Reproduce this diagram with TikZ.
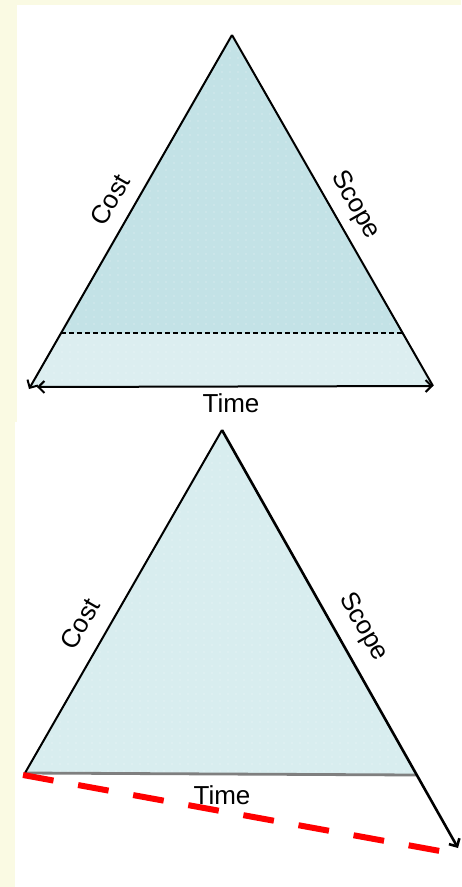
\documentclass[tikz,border=0pt]{standalone}
\usepackage{fontspec}
\setmainfont{Liberation Sans}
\usetikzlibrary{arrows.meta}
\definecolor{cream}{HTML}{FAFAE3}
\definecolor{tealfill}{HTML}{C3E2E6}
\definecolor{palefill}{HTML}{DCEEF0}
\definecolor{lowfill}{HTML}{D8EDEF}
\definecolor{basegray}{HTML}{7F7F7F}
\definecolor{dashred}{HTML}{FF0000}

\begin{document}
\begin{tikzpicture}[x=1pt, y=-1pt, >={Straight Barb[length=6pt, width=12pt]}, line width=2pt,
  lbl/.style={font=\fontsize{26}{30}\selectfont, inner sep=0pt},
  dotgrid/.style={white, opacity=0.6}]

% Background
\fill[cream] (0,0) rectangle (461,887);
\fill[white] (17,5) rectangle (461,422);
\fill[white] (15,422) rectangle (461,887);
\useasboundingbox (0,0) rectangle (461,887);

% ============================================================
% Top triangle: shrinking time
% ============================================================
\coordinate (tApex) at (232,35);
\coordinate (tFillL) at (31,386);
\coordinate (tCostEnd) at (29,389);
\coordinate (tTimeL) at (37,387);
\coordinate (tRight) at (433,386);
\coordinate (tDashL) at (61,333);
\coordinate (tDashR) at (403,333);

% Fill
\fill[palefill] (tApex) -- (tFillL) -- (tRight) -- cycle;
\fill[tealfill] (tApex) -- (tDashL) -- (tDashR) -- cycle;
\begin{scope}
  \clip (tApex) -- (tFillL) -- (tRight) -- cycle;
  \foreach \i in {0,...,52} {
    \foreach \j in {0,...,51} {
      \fill[dotgrid] (22+\i*8, 30+\j*7) circle (0.7);
    }
  }
\end{scope}

% Sides
\draw[->] (tApex) -- (tCostEnd);
\draw (tApex) -- (tRight);
\draw[<->] (tTimeL) -- (tRight);
\draw[line width=1.2pt, dash pattern=on 5pt off 3pt] (tDashL) -- (tDashR);

% Labels
\node[lbl, rotate=60] (tCost) at (110,200) {Cost};
\node[lbl, rotate=-60] (tScope) at (355,205) {Scope};
\node[lbl] (tTime) at (231,403) {Time};

% ============================================================
% Bottom triangle: stretched scope
% ============================================================
\coordinate (bApex) at (222,430);
\coordinate (bLeft) at (25,773);
\coordinate (bRight) at (416,775);
\coordinate (bScopeEnd) at (458,848);
\coordinate (bRedL) at (23,775);
\coordinate (bRedR) at (440,851);

% Fill
\fill[lowfill] (bApex) -- (bLeft) -- (bRight) -- cycle;
\begin{scope}
  \clip (bApex) -- (bLeft) -- (bRight) -- cycle;
  \foreach \i in {0,...,50} {
    \foreach \j in {0,...,50} {
      \fill[dotgrid] (20+\i*8, 428+\j*7) circle (0.7);
    }
  }
\end{scope}

% Sides
\draw[basegray, line width=2.8pt] (bLeft) -- (bRight);
\draw (bApex) -- (bLeft);
\draw[->, line width=2.6pt] (bApex) -- (bScopeEnd);
\draw[dashred, line width=6pt, dash pattern=on 31pt off 25pt] (bRedL) -- (bRedR);

% Labels
\node[lbl, rotate=60] (bCost) at (80,624) {Cost};
\node[lbl, rotate=-60] (bScope) at (363,627) {Scope};
\node[lbl] (bTime) at (222,795) {Time};

\end{tikzpicture}
\end{document}
